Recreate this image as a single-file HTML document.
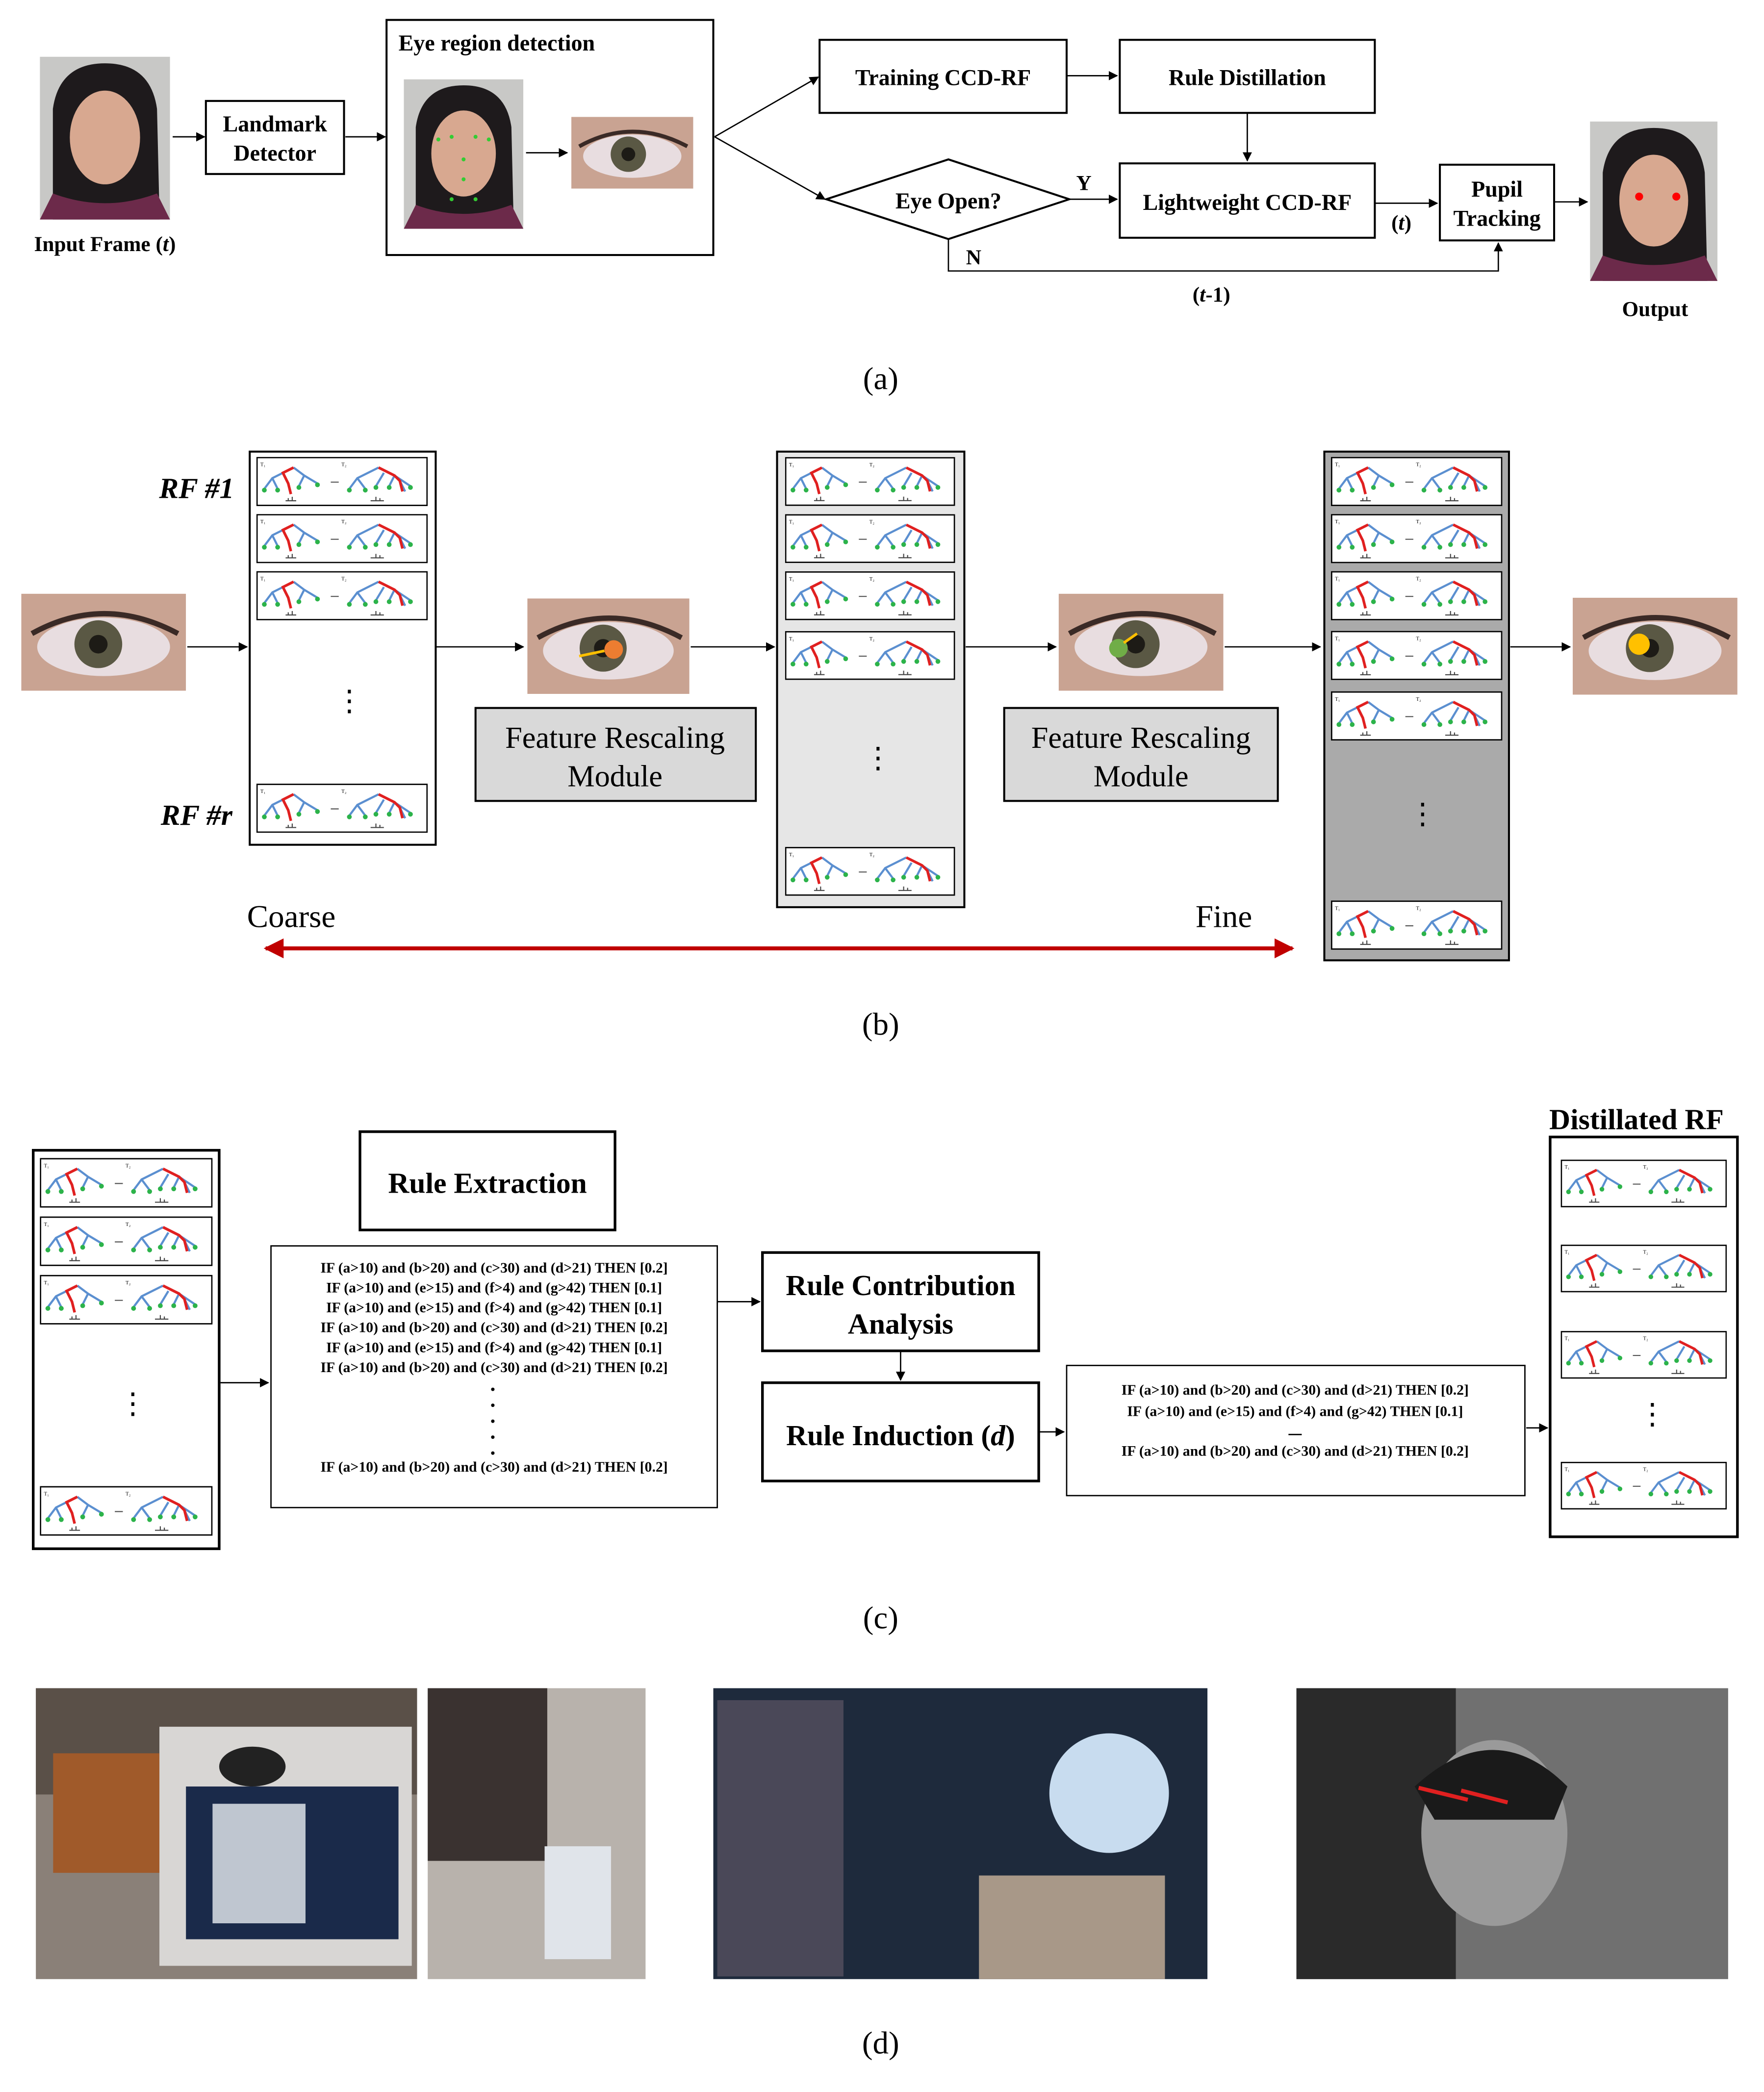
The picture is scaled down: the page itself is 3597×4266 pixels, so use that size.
<!DOCTYPE html>
<html><head><meta charset="utf-8"><style>
html,body{margin:0;padding:0;background:#fff}
svg{display:block}
.s{font-family:"Liberation Serif",serif}
</style></head><body>
<svg width="3597" height="4266" viewBox="0 0 1328 1575" xmlns="http://www.w3.org/2000/svg" class="s">
<defs>
<marker id="ah" viewBox="0 0 10 10" refX="9" refY="5" markerWidth="7" markerHeight="7" orient="auto-start-reverse"><path d="M0,0L10,5L0,10z" fill="#000"/></marker>
<marker id="rh" viewBox="0 0 10 10" refX="9" refY="5" markerWidth="5" markerHeight="5" orient="auto-start-reverse"><path d="M0,0L10,5L0,10z" fill="#c00000"/></marker>
<symbol id="tr" viewBox="0 0 129 37">
<rect x="0.5" y="0.5" width="128" height="36" fill="#fff" stroke="#000"/>
<g fill="none" stroke="#5b8fd0" stroke-width="1.6">
<path d="M28,8L12,16L6,24M12,16L16,24M28,8L36,14L46,20M36,14L32,22M20,12L24,20"/>
<path d="M92,8L76,16L70,24M76,16L82,24M92,8L104,14L116,22M104,14L100,22M96,12L90,22M108,18L112,26"/>
</g>
<g fill="none" stroke="#e02020" stroke-width="2"><path d="M28,8L20,12L24,20L26,28"/><path d="M92,8L104,14L108,18L110,26"/></g>
<g fill="#2cb34a"><circle cx="6" cy="25" r="1.8"/><circle cx="16" cy="25" r="1.8"/><circle cx="32" cy="23" r="1.8"/><circle cx="46" cy="21" r="1.8"/><circle cx="70" cy="25" r="1.8"/><circle cx="82" cy="25" r="1.8"/><circle cx="100" cy="23" r="1.8"/><circle cx="116" cy="23" r="1.8"/><circle cx="90" cy="23" r="1.8"/></g>
<g stroke="#444" stroke-width="0.8"><path d="M22,33h8M86,33h10M24,33v-2M27,33v-3M90,33v-3M93,33v-2"/></g>
<text x="3" y="7" font-size="4">T₁</text><text x="64" y="7" font-size="4">T₂</text><path d="M56,19h6" stroke="#555" stroke-width="0.8"/>
</symbol>
<symbol id="eye" viewBox="0 0 124 73">
<rect width="124" height="73" fill="#c9a392"/>
<ellipse cx="62" cy="40" rx="50" ry="22" fill="#e8dde0"/>
<circle cx="58" cy="38" r="18" fill="#5a5844"/>
<circle cx="58" cy="38" r="7" fill="#1d1b16"/>
<path d="M8,30Q62,0 118,30" stroke="#3a2a26" stroke-width="4" fill="none"/>
</symbol>
<symbol id="face" viewBox="0 0 100 125">
<rect width="100" height="125" fill="#c8c8c6"/>
<path d="M10,125L10,40Q15,5 50,5Q85,5 90,40L92,125z" fill="#1e1a1c"/>
<ellipse cx="50" cy="62" rx="27" ry="36" fill="#d8a890"/>
<path d="M0,125L10,105Q50,120 90,105L100,125z" fill="#6c2a4a"/>
</symbol>
</defs>

<!-- (a) -->
<use href="#face" x="30" y="42" width="98" height="124"/>
<text x="79" y="189" font-size="16" font-weight="bold" text-anchor="middle">Input Frame (<tspan font-style="italic">t</tspan>)</text>
<line x1="130" y1="103" x2="154" y2="103" stroke="#000" marker-end="url(#ah)"/>
<rect x="155" y="76" width="104" height="55" fill="#fff" stroke="#000" stroke-width="1.5"/>
<text x="207" y="99" font-size="17" font-weight="bold" text-anchor="middle">Landmark</text>
<text x="207" y="121" font-size="17" font-weight="bold" text-anchor="middle">Detector</text>
<line x1="260" y1="103" x2="290" y2="103" stroke="#000" marker-end="url(#ah)"/>
<rect x="291" y="15" width="246" height="177" fill="#fff" stroke="#000" stroke-width="1.5"/>
<text x="300" y="38" font-size="17" font-weight="bold">Eye region detection</text>
<use href="#face" x="304" y="55" width="90" height="122"/>
<g fill="#3c3">
<circle cx="330" cy="105" r="1.5"/><circle cx="340" cy="103" r="1.5"/><circle cx="358" cy="103" r="1.5"/><circle cx="368" cy="105" r="1.5"/><circle cx="349" cy="120" r="1.5"/><circle cx="349" cy="135" r="1.5"/><circle cx="340" cy="150" r="1.5"/><circle cx="358" cy="150" r="1.5"/>
</g>
<line x1="396" y1="115" x2="427" y2="115" stroke="#000" marker-end="url(#ah)"/>
<use href="#eye" x="429" y="88" width="94" height="54"/>
<line x1="538" y1="103" x2="616" y2="58" stroke="#000" marker-end="url(#ah)"/>
<line x1="538" y1="103" x2="621" y2="150" stroke="#000" marker-end="url(#ah)"/>
<rect x="617" y="30" width="186" height="55" fill="#fff" stroke="#000" stroke-width="1.5"/>
<text x="710" y="64" font-size="17" font-weight="bold" text-anchor="middle">Training  CCD-RF</text>
<line x1="803" y1="57" x2="841" y2="57" stroke="#000" marker-end="url(#ah)"/>
<rect x="843" y="30" width="192" height="55" fill="#fff" stroke="#000" stroke-width="1.5"/>
<text x="939" y="64" font-size="17" font-weight="bold" text-anchor="middle">Rule Distillation</text>
<line x1="939" y1="85" x2="939" y2="121" stroke="#000" marker-end="url(#ah)"/>
<polygon points="622,150 714,120 805,150 714,180" fill="#fff" stroke="#000" stroke-width="1.5"/>
<text x="714" y="157" font-size="17" font-weight="bold" text-anchor="middle">Eye Open?</text>
<line x1="805" y1="150" x2="841" y2="150" stroke="#000" marker-end="url(#ah)"/>
<text x="816" y="143" font-size="16" font-weight="bold" text-anchor="middle">Y</text>
<rect x="843" y="123" width="192" height="56" fill="#fff" stroke="#000" stroke-width="1.5"/>
<text x="939" y="158" font-size="17" font-weight="bold" text-anchor="middle">Lightweight  CCD-RF</text>
<line x1="1035" y1="153" x2="1082" y2="153" stroke="#000" marker-end="url(#ah)"/>
<text x="1055" y="173" font-size="16" font-weight="bold" text-anchor="middle">(<tspan font-style="italic">t</tspan>)</text>
<rect x="1084" y="124" width="86" height="57" fill="#fff" stroke="#000" stroke-width="1.5"/>
<text x="1127" y="148" font-size="17" font-weight="bold" text-anchor="middle">Pupil</text>
<text x="1127" y="170" font-size="17" font-weight="bold" text-anchor="middle">Tracking</text>
<line x1="1170" y1="152" x2="1195" y2="152" stroke="#000" marker-end="url(#ah)"/>
<use href="#face" x="1197" y="90" width="96" height="123"/>
<circle cx="1234" cy="148" r="3" fill="#f00"/><circle cx="1262" cy="148" r="3" fill="#f00"/>
<text x="1246" y="238" font-size="16" font-weight="bold" text-anchor="middle">Output</text>
<polyline points="714,180 714,204 1128,204 1128,183" fill="none" stroke="#000" marker-end="url(#ah)"/>
<text x="733" y="199" font-size="16" font-weight="bold" text-anchor="middle">N</text>
<text x="912" y="227" font-size="16" font-weight="bold" text-anchor="middle">(<tspan font-style="italic">t</tspan>-1)</text>
<text x="663" y="293" font-size="24" text-anchor="middle">(a)</text>

<!-- (b) -->
<use href="#eye" x="16" y="447" width="124" height="73"/>
<line x1="141" y1="487" x2="186" y2="487" stroke="#000" marker-end="url(#ah)"/>
<text x="148" y="375" font-size="22" font-weight="bold" font-style="italic" text-anchor="middle">RF #1</text>
<text x="148" y="621" font-size="22" font-weight="bold" font-style="italic" text-anchor="middle">RF #r</text>
<rect x="188" y="340" width="140" height="296" fill="#fff" stroke="#000" stroke-width="1.5"/>
<use href="#tr" x="193" y="344" width="129" height="37"/><use href="#tr" x="193" y="387" width="129" height="37"/><use href="#tr" x="193" y="430" width="129" height="37"/><use href="#tr" x="193" y="590" width="129" height="37"/>
<text x="263" y="535" font-size="22" text-anchor="middle">⋮</text>
<line x1="328" y1="487" x2="394" y2="487" stroke="#000" marker-end="url(#ah)"/>
<use href="#eye" x="397" y="450" width="122" height="73"/>
<circle cx="462" cy="489" r="7" fill="#ed7d31"/><line x1="455" y1="490" x2="436" y2="494" stroke="#ffc000" stroke-width="2"/>
<line x1="520" y1="487" x2="583" y2="487" stroke="#000" marker-end="url(#ah)"/>
<rect x="358" y="533" width="211" height="70" fill="#d9d9d9" stroke="#000" stroke-width="1.5"/>
<text x="463" y="563" font-size="23" text-anchor="middle">Feature Rescaling</text>
<text x="463" y="592" font-size="23" text-anchor="middle">Module</text>
<rect x="585" y="340" width="141" height="343" fill="#e6e6e6" stroke="#000" stroke-width="1.5"/>
<use href="#tr" x="591" y="344" width="128" height="37"/><use href="#tr" x="591" y="387" width="128" height="37"/><use href="#tr" x="591" y="430" width="128" height="37"/><use href="#tr" x="591" y="475" width="128" height="37"/><use href="#tr" x="591" y="636" width="128" height="40"/>
<text x="661" y="578" font-size="22" text-anchor="middle">⋮</text>
<line x1="727" y1="487" x2="795" y2="487" stroke="#000" marker-end="url(#ah)"/>
<use href="#eye" x="797" y="447" width="124" height="73"/>
<circle cx="842" cy="488" r="7" fill="#70ad47"/><line x1="846" y1="484" x2="856" y2="477" stroke="#ffc000" stroke-width="2"/>
<rect x="756" y="533" width="206" height="70" fill="#d9d9d9" stroke="#000" stroke-width="1.5"/>
<text x="859" y="563" font-size="23" text-anchor="middle">Feature Rescaling</text>
<text x="859" y="592" font-size="23" text-anchor="middle">Module</text>
<line x1="922" y1="487" x2="994" y2="487" stroke="#000" marker-end="url(#ah)"/>
<rect x="997" y="340" width="139" height="383" fill="#aaaaaa" stroke="#000" stroke-width="1.5"/>
<use href="#tr" x="1002" y="344" width="129" height="37"/><use href="#tr" x="1002" y="387" width="129" height="37"/><use href="#tr" x="1002" y="430" width="129" height="37"/><use href="#tr" x="1002" y="475" width="129" height="37"/><use href="#tr" x="1002" y="520" width="129" height="38"/><use href="#tr" x="1002" y="677" width="129" height="39"/>
<text x="1071" y="620" font-size="22" text-anchor="middle">⋮</text>
<line x1="1137" y1="487" x2="1182" y2="487" stroke="#000" marker-end="url(#ah)"/>
<use href="#eye" x="1184" y="450" width="124" height="73"/>
<circle cx="1234" cy="485" r="8" fill="#ffc000"/>
<text x="186" y="698" font-size="24">Coarse</text>
<text x="900" y="698" font-size="24">Fine</text>
<line x1="200" y1="714" x2="973" y2="714" stroke="#c00000" stroke-width="3" marker-start="url(#rh)" marker-end="url(#rh)"/>
<text x="663" y="779" font-size="24" text-anchor="middle">(b)</text>

<!-- (c) -->
<rect x="25" y="866" width="140" height="300" fill="#fff" stroke="#000" stroke-width="2"/>
<use href="#tr" x="30" y="870" width="130" height="41"/><use href="#tr" x="30" y="914" width="130" height="41"/><use href="#tr" x="30" y="958" width="130" height="41"/><use href="#tr" x="30" y="1118" width="130" height="39"/>
<text x="100" y="1064" font-size="22" text-anchor="middle">⋮</text>
<line x1="166" y1="1041" x2="202" y2="1041" stroke="#000" marker-end="url(#ah)"/>
<rect x="271" y="852" width="192" height="74" fill="#fff" stroke="#000" stroke-width="2"/>
<text x="367" y="898" font-size="22" font-weight="bold" text-anchor="middle">Rule Extraction</text>
<rect x="204" y="938" width="336" height="197" fill="#fff" stroke="#000" stroke-width="1"/>
<g font-size="11" font-weight="bold" text-anchor="middle">
<text x="372" y="958">IF (a&gt;10) and (b&gt;20) and (c&gt;30) and (d&gt;21) THEN [0.2]</text>
<text x="372" y="973">IF (a&gt;10) and (e&gt;15) and (f&gt;4) and (g&gt;42) THEN [0.1]</text>
<text x="372" y="988">IF (a&gt;10) and (e&gt;15) and (f&gt;4) and (g&gt;42) THEN [0.1]</text>
<text x="372" y="1003">IF (a&gt;10) and (b&gt;20) and (c&gt;30) and (d&gt;21) THEN [0.2]</text>
<text x="372" y="1018">IF (a&gt;10) and (e&gt;15) and (f&gt;4) and (g&gt;42) THEN [0.1]</text>
<text x="372" y="1033">IF (a&gt;10) and (b&gt;20) and (c&gt;30) and (d&gt;21) THEN [0.2]</text>
<text x="372" y="1108">IF (a&gt;10) and (b&gt;20) and (c&gt;30) and (d&gt;21) THEN [0.2]</text>
</g>
<g fill="#000"><circle cx="371" cy="1046" r="1.3"/><circle cx="371" cy="1058" r="1.3"/><circle cx="371" cy="1070" r="1.3"/><circle cx="371" cy="1082" r="1.3"/><circle cx="371" cy="1094" r="1.3"/></g>
<line x1="540" y1="980" x2="572" y2="980" stroke="#000" marker-end="url(#ah)"/>
<rect x="574" y="943" width="208" height="74" fill="#fff" stroke="#000" stroke-width="2"/>
<text x="678" y="975" font-size="22" font-weight="bold" text-anchor="middle">Rule Contribution</text>
<text x="678" y="1004" font-size="22" font-weight="bold" text-anchor="middle">Analysis</text>
<line x1="678" y1="1017" x2="678" y2="1039" stroke="#000" marker-end="url(#ah)"/>
<rect x="574" y="1041" width="208" height="74" fill="#fff" stroke="#000" stroke-width="2"/>
<text x="678" y="1088" font-size="22" font-weight="bold" text-anchor="middle">Rule Induction (<tspan font-style="italic">d</tspan>)</text>
<line x1="782" y1="1078" x2="801" y2="1078" stroke="#000" marker-end="url(#ah)"/>
<rect x="803" y="1028" width="345" height="98" fill="#fff" stroke="#000" stroke-width="1"/>
<g font-size="11" font-weight="bold" text-anchor="middle">
<text x="975" y="1050">IF (a&gt;10) and (b&gt;20) and (c&gt;30) and (d&gt;21) THEN [0.2]</text>
<text x="975" y="1066">IF (a&gt;10) and (e&gt;15) and (f&gt;4) and (g&gt;42) THEN [0.1]</text>
<text x="975" y="1096">IF (a&gt;10) and (b&gt;20) and (c&gt;30) and (d&gt;21) THEN [0.2]</text>
</g>
<line x1="970" y1="1080" x2="980" y2="1080" stroke="#000"/>
<line x1="1149" y1="1075" x2="1165" y2="1075" stroke="#000" marker-end="url(#ah)"/>
<text x="1232" y="850" font-size="22" font-weight="bold" text-anchor="middle">Distillated RF</text>
<rect x="1167" y="856" width="141" height="301" fill="#fff" stroke="#000" stroke-width="2"/>
<use href="#tr" x="1175" y="864" width="125" height="54"/><use href="#tr" x="1175" y="928" width="125" height="54"/><use href="#tr" x="1175" y="993" width="125" height="54"/><use href="#tr" x="1175" y="1091" width="125" height="55"/>
<text x="1244" y="1072" font-size="22" text-anchor="middle">⋮</text>
<text x="663" y="1226" font-size="24" text-anchor="middle">(c)</text>

<!-- (d) -->
<rect x="27" y="1271" width="287" height="219" fill="#8a8078"/>
<rect x="27" y="1271" width="287" height="80" fill="#5a5048"/>
<rect x="120" y="1300" width="190" height="180" fill="#d8d6d4"/>
<rect x="140" y="1345" width="160" height="115" fill="#1a2a4a"/>
<rect x="160" y="1358" width="70" height="90" fill="#bfc6d0"/>
<rect x="40" y="1320" width="80" height="90" fill="#a05a2a"/>
<ellipse cx="190" cy="1330" rx="25" ry="15" fill="#222"/>
<rect x="322" y="1271" width="164" height="219" fill="#b8b2ac"/>
<rect x="322" y="1271" width="90" height="130" fill="#3a3230"/>
<rect x="410" y="1390" width="50" height="85" fill="#e0e4ea"/>
<rect x="537" y="1271" width="372" height="219" fill="#1e2a3c"/>
<rect x="540" y="1280" width="95" height="208" fill="#4a4858"/>
<circle cx="835" cy="1350" r="45" fill="#c8dcef"/>
<rect x="737" y="1412" width="140" height="78" fill="#a89888"/>
<rect x="976" y="1271" width="325" height="219" fill="#707070"/>
<rect x="976" y="1271" width="120" height="219" fill="#2a2a2a"/>
<ellipse cx="1125" cy="1380" rx="55" ry="70" fill="#9a9a9a"/>
<path d="M1065,1345Q1125,1290 1180,1345L1170,1370L1080,1370z" fill="#1a1a1a"/>
<line x1="1105" y1="1355" x2="1068" y2="1346" stroke="#e02020" stroke-width="3"/>
<line x1="1100" y1="1348" x2="1135" y2="1357" stroke="#e02020" stroke-width="3"/>
<text x="663" y="1546" font-size="24" text-anchor="middle">(d)</text>
</svg>
</body></html>
